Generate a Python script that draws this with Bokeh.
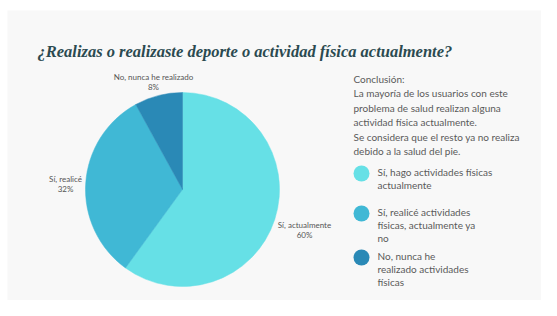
from math import pi
from bokeh.plotting import figure
from bokeh.models import Range1d, ColumnDataSource
from bokeh.core.properties import value
from bokeh.embed import file_html
from bokeh.resources import INLINE

# ---- data ----
categories = ["Sí, actualmente", "Sí, realicé", "No, nunca he realizado"]
values = [60, 32, 8]
pct_labels = ["60%", "32%", "8%"]
colors = ["#66e0e6", "#40b8d5", "#2a89b6"]
legend_labels = [
    ["Sí, hago actividades físicas", "actualmente"],
    ["Sí, realicé actividades", "físicas, actualmente ya", "no"],
    ["No, nunca he", "realizado actividades", "físicas"],
]
title_text = "¿Realizas o realizaste deporte o actividad física actualmente?"
conclusion_lines = [
    "Conclusión:",
    "La mayoría de los usuarios con este",
    "problema de salud realizan alguna",
    "actividad física actualmente.",
    "Se considera que el resto ya no realiza",
    "debido a la salud del pie.",
]

W, H = 541, 300
H_REF = 316  # data y = H_REF - pixel y

p = figure(width=W, height=H, output_backend="svg", toolbar_location=None,
           x_range=Range1d(0, W), y_range=Range1d(H_REF - H, H_REF),
           min_border=0, outline_line_color=None, background_fill_color="white",
           border_fill_color="white")
p.axis.visible = False
p.grid.visible = False

def Y(py):
    return H_REF - py

# panel background
p.quad(left=[7], right=[560], bottom=[Y(320)], top=[Y(10)],
       fill_color="#f8f8f8", line_color=None)

# ---- pie ----
cx, cy, r = 182, Y(189), 97
total = sum(values)
starts, ends = [], []
cum = 0.0
for v in values:
    starts.append(pi / 2 - 2 * pi * cum / total)
    cum += v
    ends.append(pi / 2 - 2 * pi * cum / total)
src = ColumnDataSource(dict(start=starts, end=ends, color=colors))
p.wedge(x=cx, y=cy, radius=r, start_angle="start", end_angle="end",
        direction="clock", fill_color="color", line_color="color", line_width=0.5,
        source=src)

# pie labels (positions are layout)
label_pos = [(304, 224), (65, 178), (153, 76)]
lab_x = [pos[0] for pos in label_pos]
p.text(x=lab_x, y=[Y(pos[1]) for pos in label_pos], text=categories,
       text_font=value("Lato"), text_font_size="8px", text_color="#555555",
       text_align="center", text_baseline="middle")
p.text(x=lab_x, y=[Y(pos[1] + 10) for pos in label_pos], text=pct_labels,
       text_font=value("Lato"), text_font_size="8px", text_color="#555555",
       text_align="center", text_baseline="middle")

# ---- title ----
p.text(x=[37], y=[Y(51)], text=[title_text],
       text_font=value("Liberation Serif"), text_font_style="bold italic",
       text_font_size="16.5px", text_color="#2b4a50",
       text_align="left", text_baseline="alphabetic")

# ---- conclusion ----
cl_y = [Y(78 + 14.5 * i) for i in range(len(conclusion_lines))]
p.text(x=[353] * len(conclusion_lines), y=cl_y, text=conclusion_lines,
       text_font=value("Lato"), text_font_size="10px", text_color="#5a5a5a",
       text_align="left", text_baseline="middle")

# ---- legend ----
leg_rows = [173, 213, 257]
p.scatter(x=[361] * 3, y=[Y(v) for v in leg_rows], size=16, marker="circle",
          fill_color=colors, line_color=None)
lx, ly, lt = [], [], []
for row, lines in zip(leg_rows, legend_labels):
    for j, t in enumerate(lines):
        lx.append(377)
        ly.append(Y(row - 2 + 13 * j))
        lt.append(t)
p.text(x=lx, y=ly, text=lt, text_font=value("Lato"), text_font_size="10px",
       text_color="#5a5a5a", text_align="left", text_baseline="middle")

open("out.html", "w").write(file_html(p, INLINE))
